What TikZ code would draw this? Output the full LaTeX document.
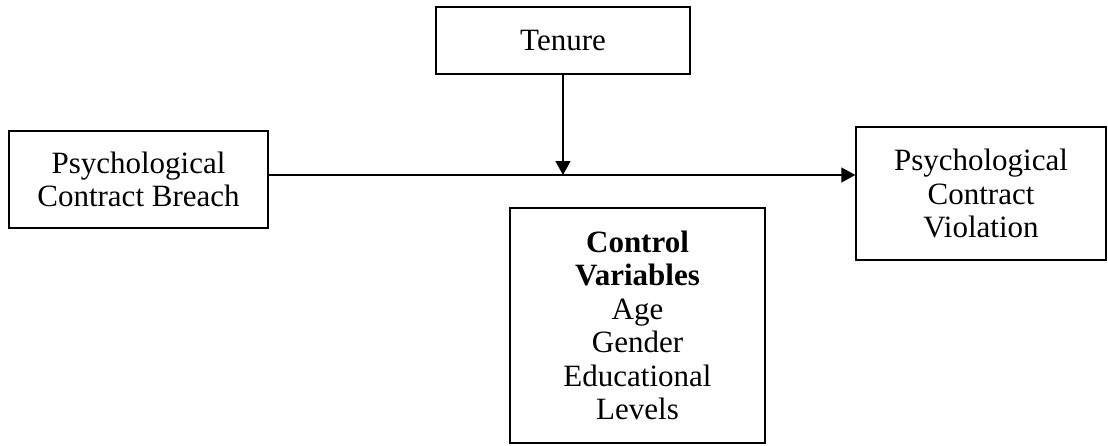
\documentclass[tikz,border=0pt]{standalone}
\usepackage{fontspec}
\setmainfont{Liberation Serif}
\usetikzlibrary{arrows.meta}
\begin{document}
\begin{tikzpicture}[x=1pt,y=-1pt,
  box/.style={draw, line width=1.4pt, inner sep=0pt, align=center,
    font=\fontsize{31}{33.5}\selectfont},
  conn/.style={line width=1.4pt, -{Triangle[length=14pt,width=15pt]}}]
\useasboundingbox (0,0) rectangle (1108,445);
\node[box, minimum width=254pt, minimum height=67pt] (tenure) at (563,40.5) {Tenure};
\node[box, minimum width=259pt, minimum height=97pt] (breach) at (138.5,179.5)
  {Psychological\\Contract Breach};
\node[box, minimum width=250pt, minimum height=133pt] (viol) at (981,193.5)
  {Psychological\\Contract\\Violation};
\node[box, minimum width=255pt, minimum height=235pt] (ctrl) at (637.5,325.5)
  {\textbf{Control}\\\textbf{Variables}\\Age\\Gender\\Educational\\Levels};
\coordinate (j) at (563,175);
\draw[conn] (breach.east |- j) -- (viol.west |- j);
\draw[conn] (tenure.south) -- (j);
\end{tikzpicture}
\end{document}
